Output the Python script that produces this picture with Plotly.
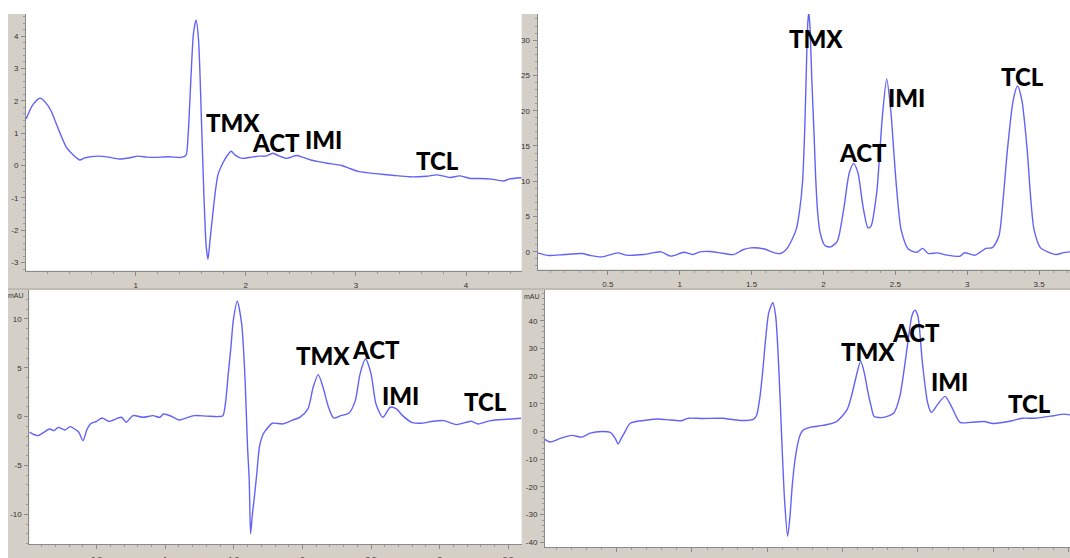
import plotly.graph_objects as go

# ---------------- data ----------------
peak_labels = ["TMX", "ACT", "IMI", "TCL"]

p1_time = [0.005, 0.06, 0.13, 0.18, 0.23, 0.30, 0.37, 0.43, 0.49, 0.54, 0.66, 0.75, 0.85, 0.95,
           1.02, 1.10, 1.16, 1.30, 1.41, 1.455, 1.476, 1.50, 1.525, 1.548, 1.57, 1.595, 1.62, 1.64,
           1.656, 1.675, 1.70, 1.725, 1.749, 1.795, 1.83, 1.867, 1.90, 1.967, 2.05, 2.12, 2.18, 2.245,
           2.30, 2.37, 2.46, 2.52, 2.59, 2.66, 2.74, 2.87, 2.95, 3.02, 3.10, 3.18, 3.33, 3.49, 3.64,
           3.735, 3.80, 3.86, 3.94, 4.04, 4.13, 4.23, 4.34, 4.39, 4.505]
p1_signal = [1.44, 1.85, 2.08, 1.95, 1.69, 1.10, 0.56, 0.33, 0.17, 0.24, 0.29, 0.26, 0.20, 0.24,
             0.29, 0.26, 0.25, 0.27, 0.25, 0.31, 0.97, 2.6, 4.1, 4.49, 3.9, 1.6, -1.0, -2.5,
             -2.89, -2.3, -1.49, -0.75, -0.26, 0.10, 0.30, 0.44, 0.33, 0.22, 0.26, 0.29, 0.29, 0.38,
             0.30, 0.22, 0.31, 0.25, 0.17, 0.12, 0.07, 0.00, -0.10, -0.18, -0.22, -0.25, -0.30, -0.35, -0.33,
             -0.29, -0.33, -0.37, -0.32, -0.40, -0.40, -0.42, -0.48, -0.42, -0.38]

p2_time = [0.011, 0.09, 0.198, 0.32, 0.38, 0.46, 0.57, 0.63, 0.75, 0.87, 0.94, 1.03, 1.09, 1.14,
           1.21, 1.30, 1.375, 1.44, 1.495, 1.59, 1.64, 1.70, 1.75, 1.81, 1.835, 1.855, 1.87, 1.88,
           1.89, 1.898, 1.906, 1.92, 1.935, 1.946, 1.96, 1.976, 2.01, 2.05, 2.096, 2.12, 2.144, 2.18,
           2.21, 2.24, 2.275, 2.31, 2.33, 2.37, 2.39, 2.41, 2.44, 2.468, 2.485, 2.50, 2.52, 2.54,
           2.59, 2.65, 2.69, 2.73, 2.79, 2.86, 2.95, 2.98, 3.055, 3.13, 3.175, 3.22, 3.25, 3.28,
           3.32, 3.35, 3.38, 3.417, 3.44, 3.465, 3.51, 3.56, 3.62, 3.665, 3.715]
p2_signal = [-0.14, -0.52, -0.38, -0.24, -0.52, -0.71, -0.14, -0.47, -0.38, 0.0, -0.61, -0.05, -0.38, 0.0,
             0.05, -0.2, -0.38, 0.3, 0.57, 0.4, 0.0, -0.24, 0.57, 3.15, 6.0, 10.0, 17.5, 25.0,
             32.0, 34.0, 32.0, 24.0, 16.5, 10.5, 5.5, 2.8, 0.89, 0.7, 1.5, 3.5, 6.45, 11.2,
             12.5, 11.2, 6.45, 3.4, 3.6, 8.3, 13.5, 19.2, 24.5, 20.1, 15.5, 11.2, 6.5, 3.15,
             0.4, -0.05, 0.5, -0.24, -0.14, -0.47, -0.61, -0.14, -0.47, 0.5, 0.6, 2.2, 7.5, 14.5,
             21.5, 23.5, 21.5, 14.5, 8.0, 3.15, 0.57, 0.0, -0.38, -0.14, 0.0]

p3_time = [0.01, 0.07, 0.157, 0.19, 0.22, 0.27, 0.306, 0.34, 0.37, 0.40, 0.43, 0.454, 0.50, 0.54,
           0.59, 0.68, 0.715, 0.764, 0.84, 0.91, 0.96, 0.987, 1.05, 1.10, 1.21, 1.30, 1.384, 1.42,
           1.44, 1.459, 1.478, 1.496, 1.525, 1.557, 1.57, 1.582, 1.60, 1.612, 1.622, 1.635, 1.649,
           1.666, 1.686, 1.71, 1.73, 1.78, 1.855, 1.93, 1.98, 2.04, 2.078, 2.115, 2.15, 2.19, 2.227,
           2.28, 2.338, 2.385, 2.42, 2.46, 2.50, 2.536, 2.586, 2.64, 2.685, 2.73, 2.795, 2.87, 2.95,
           3.03, 3.12, 3.23, 3.28, 3.37, 3.49, 3.595]
p3_signal = [-1.6, -1.95, -1.27, -1.44, -1.1, -1.37, -1.03, -1.27, -1.6, -2.46, -1.3, -0.75, -0.48, -0.14,
             -0.48, -0.07, -0.58, 0.1, -0.07, 0.1, -0.07, 0.27, 0.0, -0.34, 0.1, 0.05, 0.0, 0.1,
             1.5, 4.38, 7.0, 9.85, 11.83, 9.5, 7.0, 3.7, -3.2, -6.5, -12.0, -10.0, -8.3,
             -6.0, -3.15, -1.9, -1.44, -0.68, -0.75, -0.34, -0.07, 0.79, 3.0, 4.3, 3.0, 0.96, -0.14,
             0.1, 0.34, 1.64, 4.38, 5.9, 4.38, 1.3, -0.07, 0.96, 0.79, 0.1, -0.58, -0.68, -0.48,
             -0.41, -0.82, -0.48, -0.75, -0.41, -0.27, -0.17]

p4_time = [0.024, 0.06, 0.13, 0.20, 0.27, 0.325, 0.40, 0.46, 0.49, 0.51, 0.53, 0.55, 0.59, 0.68,
           0.77, 0.83, 0.93, 0.976, 1.07, 1.20, 1.32, 1.41, 1.43, 1.45, 1.47, 1.49, 1.51, 1.537,
           1.555, 1.57, 1.585, 1.60, 1.615, 1.635, 1.65, 1.665, 1.68, 1.70, 1.72, 1.74, 1.79, 1.87,
           1.96, 2.03, 2.06, 2.085, 2.12, 2.145, 2.165, 2.19, 2.21, 2.27, 2.34, 2.38, 2.43, 2.46,
           2.48, 2.50, 2.53, 2.565, 2.59, 2.63, 2.68, 2.725, 2.78, 2.85, 2.94, 3.0, 3.125, 3.19,
           3.28, 3.40, 3.47, 3.51]
p4_signal = [-2.8, -3.8, -2.4, -1.4, -2.0, -0.6, 0.0, -0.4, -2.5, -4.5, -2.5, -0.6, 3.0, 4.0,
             4.5, 4.3, 3.9, 4.8, 4.7, 4.8, 4.0, 4.5, 6.0, 12.0, 22.0, 34.0, 43.0, 46.5,
             42.0, 30.0, 12.0, -8.0, -25.0, -37.8, -31.0, -20.0, -12.0, -5.0, -1.0, 0.6, 1.6, 2.2,
             3.6, 7.9, 13.0, 18.7, 25.4, 21.0, 15.1, 9.0, 5.4, 5.1, 6.7, 12.7, 30.8, 41.7,
             43.8, 41.7, 24.8, 10.3, 6.9, 9.7, 12.7, 8.8, 3.3, 3.3, 3.6, 2.9, 3.9, 4.8,
             4.8, 5.7, 6.3, 6.0]

# label anchor points (retention time, signal) per panel
p1_label_t = [1.886, 2.273, 2.709, 3.745]
p1_label_v = [1.32, 0.72, 0.81, 0.14]
p2_label_t = [1.946, 2.273, 2.58, 3.382]
p2_label_v = [30.27, 14.05, 21.8, 24.9]
p3_label_t = [2.149, 2.534, 2.718, 3.337]
p3_label_v = [6.26, 6.87, 2.15, 1.59]
p4_label_t = [2.169, 2.487, 2.71, 3.244]
p4_label_v = [29.0, 35.6, 18.0, 10.0]

p1_yticks = [-3, -2, -1, 0, 1, 2, 3, 4]
p1_xticks = [1, 2, 3, 4]
p2_yticks = [0, 5, 10, 15, 20, 25, 30]
p2_xticks = [0.5, 1, 1.5, 2, 2.5, 3, 3.5]
p3_yticks = [-10, -5, 0, 5, 10]
p3_xticks = [0.5, 1, 1.5, 2, 2.5, 3, 3.5]
p4_yticks = [-40, -30, -20, -10, 0, 10, 20, 30, 40]
p4_xticks = [0.5, 1, 1.5, 2, 2.5, 3, 3.5]

# ---------------- figure ----------------
W, H = 1070, 558
GRAY = "#d4d0c8"
LINE = "#6262f8"
TICKFONT = dict(family="Liberation Sans, Arial, sans-serif", size=8, color="#333333")


def fx(px):
    return px / W


def fy(py):
    return 1 - py / H


def xaxis(domain, rng, ticks, minor, anchor):
    return dict(domain=domain, range=rng, anchor=anchor, tickvals=ticks, automargin=False,
                ticktext=[f"{v:g}" for v in ticks], showgrid=False, zeroline=False,
                showline=True, linecolor="#8a8a8a", linewidth=1, ticks="outside",
                ticklen=4, tickcolor="#8a8a8a", tickfont=TICKFONT, ticklabelstandoff=3,
                minor=dict(dtick=minor, tick0=0, ticks="outside", ticklen=2,
                           tickcolor="#9a9a9a", showgrid=False),
                fixedrange=True)


def yaxis(domain, rng, ticks, minor, anchor):
    return dict(domain=domain, range=rng, anchor=anchor, tickvals=ticks, automargin=False,
                ticktext=[f"{v:g}" for v in ticks], showgrid=False, zeroline=False,
                showline=True, linecolor="#8a8a8a", linewidth=1, ticks="outside",
                ticklen=4, tickcolor="#8a8a8a", tickfont=TICKFONT, ticklabelstandoff=1,
                minor=dict(dtick=minor, tick0=0, ticks="outside", ticklen=2,
                           tickcolor="#9a9a9a", showgrid=False),
                fixedrange=True)


fig = go.Figure()
panels = [
    (p1_time, p1_signal, "x", "y"),
    (p2_time, p2_signal, "x2", "y2"),
    (p3_time, p3_signal, "x3", "y3"),
    (p4_time, p4_signal, "x4", "y4"),
]
for t, v, xa, ya in panels:
    fig.add_trace(go.Scatter(x=t, y=v, mode="lines", xaxis=xa, yaxis=ya,
                             line=dict(color=LINE, width=1.4, shape="spline", smoothing=0.7),
                             showlegend=False, hoverinfo="skip"))

annotations = []
label_sets = [
    (p1_label_t, p1_label_v, "x", "y"),
    (p2_label_t, p2_label_v, "x2", "y2"),
    (p3_label_t, p3_label_v, "x3", "y3"),
    (p4_label_t, p4_label_v, "x4", "y4"),
]
for lt, lv, xa, ya in label_sets:
    for name, t, v in zip(peak_labels, lt, lv):
        annotations.append(dict(x=t, y=v, xref=xa, yref=ya, text=name, showarrow=False,
                                xanchor="center", yanchor="middle",
                                font=dict(family="Lato, Open Sans, sans-serif", size=24,
                                          color="black", weight=900)))
for px, py in [(16, 295), (532, 296)]:
    annotations.append(dict(x=fx(px), y=fy(py), xref="paper", yref="paper", text="mAU",
                            showarrow=False, xanchor="center", yanchor="middle",
                            font=dict(family="Liberation Sans, Arial, sans-serif", size=7,
                                      color="#333333")))

shapes = [
    dict(type="rect", xref="paper", yref="paper", x0=0, x1=fx(8), y0=0, y1=1,
         fillcolor="white", line=dict(width=0), layer="below"),
    dict(type="rect", xref="paper", yref="paper", x0=0, x1=1, y0=fy(14), y1=1,
         fillcolor="white", line=dict(width=0), layer="below"),
    dict(type="line", xref="paper", yref="paper", x0=fx(8), x1=1, y0=fy(289), y1=fy(289),
         line=dict(color="#aaa69e", width=1), layer="below"),
]

fig.update_layout(
    template="none",
    width=W, height=H,
    margin=dict(l=0, r=0, t=0, b=0, autoexpand=False),
    paper_bgcolor=GRAY, plot_bgcolor="white",
    showlegend=False,
    xaxis=xaxis([fx(26), fx(521.7)], [0.003, 4.506], p1_xticks, 0.2, "y"),
    yaxis=yaxis([fy(270.7), fy(14)], [-3.25, 4.68], p1_yticks, 0.2, "x"),
    xaxis2=xaxis([fx(537.5), 1], [0.011, 3.715], p2_xticks, 0.1, "y2"),
    yaxis2=yaxis([fy(269.5), fy(14)], [-2.5, 33.7], p2_yticks, 1, "x2"),
    xaxis3=xaxis([fx(29.3), fx(521.7)], [0.009, 3.598], p3_xticks, 0.1, "y3"),
    yaxis3=yaxis([fy(544.3), fy(290)], [-13.08, 12.97], p3_yticks, 1, "x3"),
    xaxis4=xaxis([fx(545), 1], [0.024, 3.51], p4_xticks, 0.1, "y4"),
    yaxis4=yaxis([fy(547.3), fy(290)], [-41.8, 51.1], p4_yticks, 2, "x4"),
    annotations=annotations,
    shapes=shapes,
)

fig.write_html(
    "out.html",
    config={"displayModeBar": False},
    post_script="document.body.style.margin='0px';document.body.style.overflow='hidden';",
)
